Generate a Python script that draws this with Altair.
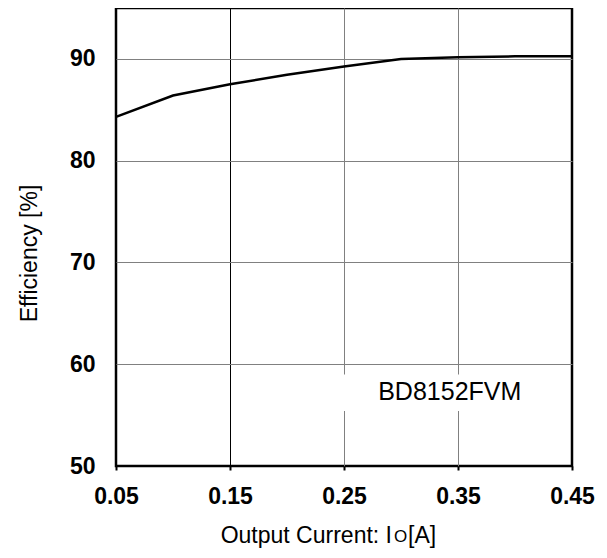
import altair as alt
import pandas as pd

# Data
current = [0.05, 0.10, 0.15, 0.20, 0.25, 0.30, 0.35, 0.40, 0.45]
efficiency = [84.3, 86.4, 87.5, 88.45, 89.25, 90.0, 90.15, 90.25, 90.25]

x_ticks = [0.05, 0.15, 0.25, 0.35, 0.45]
y_ticks = [50, 60, 70, 80, 90]

label_text = ["BD8152FVM"]
label_x = [0.28]
label_y = [57.3]
box_x = [0.24]
box_x2 = [0.43]
box_y = [55.4]
box_y2 = [59.0]

FONT = "Liberation Sans"

df = pd.DataFrame({"I": current, "eff": efficiency})
xs = alt.Scale(domain=[0.05, 0.45], nice=False, zero=False)
ys = alt.Scale(domain=[50, 95], nice=False, zero=False)

line = alt.Chart(df).mark_line(color="black", strokeWidth=2.5).encode(
    x=alt.X("I:Q", scale=xs,
            axis=alt.Axis(values=x_ticks, format=".2f", title=None,
                          grid=True,
                          gridColor=alt.expr("datum.value == 0.15 ? '#000000' : (datum.value < 0.06 || datum.value > 0.44 ? 'transparent' : '#808080')"),
                          gridWidth=1, domain=False, ticks=True, tickSize=4, tickColor="black",
                          tickWidth=2, labelPadding=15, labelFont=FONT, labelFontSize=23,
                          labelFontWeight="bold", labelColor="black", labelFlush=False)),
    y=alt.Y("eff:Q", scale=ys,
            axis=alt.Axis(values=y_ticks, title="Efficiency [%]", grid=True,
                          gridColor=alt.expr("datum.value == 50 ? 'transparent' : '#808080'"),
                          gridWidth=1, domain=False, ticks=False, tickSize=0, labelPadding=21,
                          labelFont=FONT, labelFontSize=23, labelFontWeight="bold",
                          labelColor="black", titleFont=FONT, titleFontSize=23,
                          titleFontWeight="normal", titleColor="black", titleAngle=-90,
                          titleX=-87, titleY=245, titleAlign="center", titleBaseline="middle")),
)

ann = pd.DataFrame({"t": label_text, "x": label_x, "y": label_y,
                    "bx": box_x, "bx2": box_x2, "by": box_y, "by2": box_y2})

box = alt.Chart(ann).mark_rect(color="white").encode(
    x=alt.X("bx:Q", scale=xs), x2="bx2:Q", y=alt.Y("by:Q", scale=ys), y2="by2:Q")

txt = alt.Chart(ann).mark_text(align="left", baseline="middle", font=FONT, fontSize=25,
                               color="black").encode(
    x=alt.X("x:Q", scale=xs), y=alt.Y("y:Q", scale=ys), text="t:N")

title_df = pd.DataFrame({"a": ["Output Current: I"], "b": ["O"], "c": ["[A]"]})
t1 = alt.Chart(title_df).mark_text(align="right", baseline="alphabetic", font=FONT,
                                   fontSize=23, color="black").encode(
    x=alt.value(276), y=alt.value(535), text="a:N")
t2 = alt.Chart(title_df).mark_text(align="left", baseline="alphabetic", font=FONT,
                                   fontSize=17, color="black").encode(
    x=alt.value(278), y=alt.value(534), text="b:N")
t3 = alt.Chart(title_df).mark_text(align="left", baseline="alphabetic", font=FONT,
                                   fontSize=23, color="black").encode(
    x=alt.value(292), y=alt.value(535), text="c:N")

chart = alt.layer(box, line, txt, t1, t2, t3).properties(
    width=456, height=458,
    background="white",
    autosize=alt.AutoSizeParams(type="none"),
    padding={"left": 108, "top": 0, "right": 27, "bottom": 84},
).configure_view(stroke="black", strokeWidth=2.5)

chart.save("out.html", embed_options={"renderer": "svg", "actions": False})
